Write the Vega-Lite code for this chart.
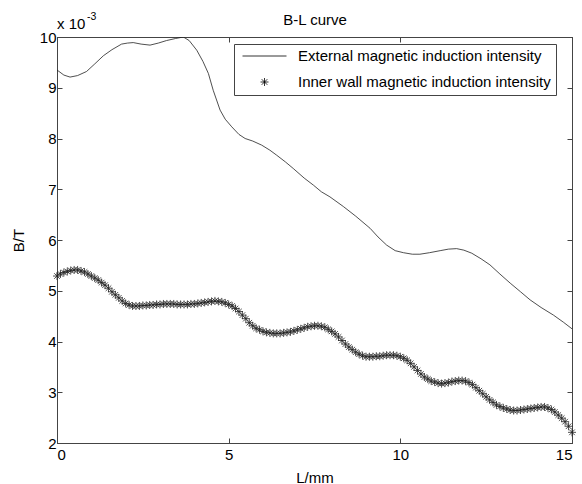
{
  "$schema": "https://vega.github.io/schema/vega-lite/v6.json",
  "autosize": "none",
  "width": 515,
  "height": 406,
  "padding": {"left": 57, "top": 37, "right": 10, "bottom": 41},
  "background": "white",
  "config": {
    "view": {"stroke": "#444", "strokeWidth": 1},
    "axis": {"grid": false, "domainColor": "#444", "tickColor": "#444", "labelColor": "#000", "titleColor": "#000", "labelFont": "Liberation Sans", "titleFont": "Liberation Sans", "labelFontSize": 15, "titleFontSize": 15, "titleFontWeight": "normal", "tickSize": -5, "labelPadding": 6}
  },
  "datasets": {
    "outer": [
      {"L": 0, "B": 0.00935}, {"L": 0.2, "B": 0.00925}, {"L": 0.38, "B": 0.00921}, {"L": 0.6, "B": 0.00924}, {"L": 0.86, "B": 0.00932},
      {"L": 1.1, "B": 0.00947}, {"L": 1.35, "B": 0.00963}, {"L": 1.6, "B": 0.00975}, {"L": 1.88, "B": 0.00986}, {"L": 2.05, "B": 0.00988},
      {"L": 2.22, "B": 0.00989}, {"L": 2.45, "B": 0.00986}, {"L": 2.71, "B": 0.00984}, {"L": 2.95, "B": 0.00988}, {"L": 3.19, "B": 0.00993},
      {"L": 3.45, "B": 0.00997}, {"L": 3.68, "B": 0.01}, {"L": 3.85, "B": 0.00993}, {"L": 4.07, "B": 0.00974}, {"L": 4.25, "B": 0.00952},
      {"L": 4.41, "B": 0.00928}, {"L": 4.55, "B": 0.00895}, {"L": 4.75, "B": 0.00856}, {"L": 4.9, "B": 0.00838}, {"L": 5.09, "B": 0.00823},
      {"L": 5.3, "B": 0.00808}, {"L": 5.48, "B": 0.008}, {"L": 5.7, "B": 0.00795}, {"L": 5.96, "B": 0.00787}, {"L": 6.2, "B": 0.00777},
      {"L": 6.4, "B": 0.00767}, {"L": 6.65, "B": 0.00754}, {"L": 6.88, "B": 0.00741}, {"L": 7.2, "B": 0.00722}, {"L": 7.47, "B": 0.00708},
      {"L": 7.7, "B": 0.00695}, {"L": 7.95, "B": 0.00685}, {"L": 8.34, "B": 0.00666}, {"L": 8.7, "B": 0.00647}, {"L": 9.12, "B": 0.00623},
      {"L": 9.35, "B": 0.00606}, {"L": 9.6, "B": 0.0059}, {"L": 9.85, "B": 0.00579}, {"L": 10.09, "B": 0.00575}, {"L": 10.35, "B": 0.00572},
      {"L": 10.57, "B": 0.00572}, {"L": 10.85, "B": 0.00575}, {"L": 11.16, "B": 0.00579}, {"L": 11.4, "B": 0.00582}, {"L": 11.64, "B": 0.00583},
      {"L": 11.85, "B": 0.0058}, {"L": 12.08, "B": 0.00574}, {"L": 12.35, "B": 0.00563}, {"L": 12.61, "B": 0.00551}, {"L": 12.9, "B": 0.00533},
      {"L": 13.2, "B": 0.00515}, {"L": 13.5, "B": 0.00498}, {"L": 13.78, "B": 0.00482}, {"L": 14.1, "B": 0.00467}, {"L": 14.46, "B": 0.00452},
      {"L": 14.75, "B": 0.00438}, {"L": 15, "B": 0.00425}
    ],
    "inner": [
      {"L": 0.0, "B": 0.00529}, {"L": 0.1, "B": 0.00533}, {"L": 0.2, "B": 0.00536}, {"L": 0.3, "B": 0.00538}, {"L": 0.4, "B": 0.0054},
      {"L": 0.5, "B": 0.00541}, {"L": 0.6, "B": 0.00541}, {"L": 0.7, "B": 0.00539}, {"L": 0.8, "B": 0.00537}, {"L": 0.9, "B": 0.00533},
      {"L": 1.0, "B": 0.00529}, {"L": 1.1, "B": 0.00525}, {"L": 1.2, "B": 0.00521}, {"L": 1.3, "B": 0.00516}, {"L": 1.4, "B": 0.00511},
      {"L": 1.5, "B": 0.00505}, {"L": 1.6, "B": 0.00498}, {"L": 1.7, "B": 0.00492}, {"L": 1.8, "B": 0.00486}, {"L": 1.9, "B": 0.0048},
      {"L": 2.0, "B": 0.00475}, {"L": 2.1, "B": 0.00472}, {"L": 2.2, "B": 0.0047}, {"L": 2.3, "B": 0.0047}, {"L": 2.4, "B": 0.0047},
      {"L": 2.5, "B": 0.00471}, {"L": 2.6, "B": 0.00471}, {"L": 2.7, "B": 0.00472}, {"L": 2.8, "B": 0.00472}, {"L": 2.9, "B": 0.00473},
      {"L": 3.0, "B": 0.00473}, {"L": 3.1, "B": 0.00474}, {"L": 3.2, "B": 0.00474}, {"L": 3.3, "B": 0.00474}, {"L": 3.4, "B": 0.00474},
      {"L": 3.5, "B": 0.00473}, {"L": 3.6, "B": 0.00473}, {"L": 3.7, "B": 0.00473}, {"L": 3.8, "B": 0.00473}, {"L": 3.9, "B": 0.00474},
      {"L": 4.0, "B": 0.00474}, {"L": 4.1, "B": 0.00475}, {"L": 4.2, "B": 0.00476}, {"L": 4.3, "B": 0.00477}, {"L": 4.4, "B": 0.00478},
      {"L": 4.5, "B": 0.00479}, {"L": 4.6, "B": 0.0048}, {"L": 4.7, "B": 0.00479}, {"L": 4.8, "B": 0.00478}, {"L": 4.9, "B": 0.00476},
      {"L": 5.0, "B": 0.00473}, {"L": 5.1, "B": 0.0047}, {"L": 5.2, "B": 0.00465}, {"L": 5.3, "B": 0.00459}, {"L": 5.4, "B": 0.00452},
      {"L": 5.5, "B": 0.00445}, {"L": 5.6, "B": 0.00437}, {"L": 5.7, "B": 0.00431}, {"L": 5.8, "B": 0.00426}, {"L": 5.9, "B": 0.00423},
      {"L": 6.0, "B": 0.0042}, {"L": 6.1, "B": 0.00418}, {"L": 6.2, "B": 0.00417}, {"L": 6.3, "B": 0.00416}, {"L": 6.4, "B": 0.00416},
      {"L": 6.5, "B": 0.00416}, {"L": 6.6, "B": 0.00417}, {"L": 6.7, "B": 0.00418}, {"L": 6.8, "B": 0.00419}, {"L": 6.9, "B": 0.00421},
      {"L": 7.0, "B": 0.00423}, {"L": 7.1, "B": 0.00425}, {"L": 7.2, "B": 0.00427}, {"L": 7.3, "B": 0.00429}, {"L": 7.4, "B": 0.0043},
      {"L": 7.5, "B": 0.00431}, {"L": 7.6, "B": 0.00431}, {"L": 7.7, "B": 0.0043}, {"L": 7.8, "B": 0.00428}, {"L": 7.9, "B": 0.00424},
      {"L": 8.0, "B": 0.0042}, {"L": 8.1, "B": 0.00415}, {"L": 8.2, "B": 0.00409}, {"L": 8.3, "B": 0.00402}, {"L": 8.4, "B": 0.00395},
      {"L": 8.5, "B": 0.00389}, {"L": 8.6, "B": 0.00384}, {"L": 8.7, "B": 0.00379}, {"L": 8.8, "B": 0.00375}, {"L": 8.9, "B": 0.00372},
      {"L": 9.0, "B": 0.0037}, {"L": 9.1, "B": 0.0037}, {"L": 9.2, "B": 0.0037}, {"L": 9.3, "B": 0.00371}, {"L": 9.4, "B": 0.00371},
      {"L": 9.5, "B": 0.00372}, {"L": 9.6, "B": 0.00373}, {"L": 9.7, "B": 0.00373}, {"L": 9.8, "B": 0.00373}, {"L": 9.9, "B": 0.00372},
      {"L": 10.0, "B": 0.0037}, {"L": 10.1, "B": 0.00367}, {"L": 10.2, "B": 0.00363}, {"L": 10.3, "B": 0.00357}, {"L": 10.4, "B": 0.0035},
      {"L": 10.5, "B": 0.00343}, {"L": 10.6, "B": 0.00336}, {"L": 10.7, "B": 0.0033}, {"L": 10.8, "B": 0.00326}, {"L": 10.9, "B": 0.00322},
      {"L": 11.0, "B": 0.0032}, {"L": 11.1, "B": 0.00318}, {"L": 11.2, "B": 0.00317}, {"L": 11.3, "B": 0.00318}, {"L": 11.4, "B": 0.00319},
      {"L": 11.5, "B": 0.00321}, {"L": 11.6, "B": 0.00322}, {"L": 11.7, "B": 0.00323}, {"L": 11.8, "B": 0.00323}, {"L": 11.9, "B": 0.00322},
      {"L": 12.0, "B": 0.00319}, {"L": 12.1, "B": 0.00315}, {"L": 12.2, "B": 0.00309}, {"L": 12.3, "B": 0.00303}, {"L": 12.4, "B": 0.00297},
      {"L": 12.5, "B": 0.00291}, {"L": 12.6, "B": 0.00285}, {"L": 12.7, "B": 0.0028}, {"L": 12.8, "B": 0.00275}, {"L": 12.9, "B": 0.00272},
      {"L": 13.0, "B": 0.00269}, {"L": 13.1, "B": 0.00267}, {"L": 13.2, "B": 0.00265}, {"L": 13.3, "B": 0.00264}, {"L": 13.4, "B": 0.00264},
      {"L": 13.5, "B": 0.00265}, {"L": 13.6, "B": 0.00266}, {"L": 13.7, "B": 0.00267}, {"L": 13.8, "B": 0.00268}, {"L": 13.9, "B": 0.00269},
      {"L": 14.0, "B": 0.0027}, {"L": 14.1, "B": 0.00271}, {"L": 14.2, "B": 0.00271}, {"L": 14.3, "B": 0.00269}, {"L": 14.4, "B": 0.00266},
      {"L": 14.5, "B": 0.00261}, {"L": 14.6, "B": 0.00255}, {"L": 14.7, "B": 0.00249}, {"L": 14.8, "B": 0.00242}, {"L": 14.9, "B": 0.00233},
      {"L": 15.0, "B": 0.00221}
    ],
    "note": [{"L": 0, "B": 0.01}]
  },
  "layer": [
    {
      "data": {"name": "outer"},
      "mark": {"type": "line", "color": "#222", "strokeWidth": 0.8, "clip": true},
      "encoding": {
        "x": {"field": "L", "type": "quantitative", "scale": {"domain": [0, 15], "nice": false, "zero": false},
              "axis": {"orient": "bottom", "values": [0, 5, 10, 15], "title": "L/mm", "labelPadding": 9, "titlePadding": 8}},
        "y": {"field": "B", "type": "quantitative", "scale": {"domain": [0.002, 0.01], "nice": false, "zero": false},
              "axis": {"orient": "left", "values": [0.002, 0.003, 0.004, 0.005, 0.006, 0.007, 0.008, 0.009, 0.01], "labelExpr": "format(datum.value*1000, 'd')", "title": "B/T", "titlePadding": 13}}
      }
    },
    {
      "data": {"name": "inner"},
      "mark": {"type": "point", "filled": false, "strokeWidth": 0.8, "color": "#222", "size": 64, "opacity": 1},
      "encoding": {
        "x": {"field": "L", "type": "quantitative", "axis": {"orient": "top", "values": [0, 5, 10, 15], "labels": false, "title": "B-L curve", "titlePadding": 12, "titleBaseline": "alphabetic"}},
        "y": {"field": "B", "type": "quantitative", "axis": {"orient": "right", "values": [0.002, 0.003, 0.004, 0.005, 0.006, 0.007, 0.008, 0.009, 0.01], "labels": false, "title": null}},
        "shape": {
          "datum": "Inner wall magnetic induction intensity",
          "type": "nominal",
          "scale": {
            "domain": ["External magnetic induction intensity", "Inner wall magnetic induction intensity"],
            "range": ["M-5.5,0L5.5,0", "M-1,0L1,0M0,-1L0,1M-0.7,-0.7L0.7,0.7M-0.7,0.7L0.7,-0.7"]
          },
          "legend": {
            "title": null, "orient": "none", "legendX": 177, "legendY": 7,
            "strokeColor": "#444", "fillColor": "#fff", "padding": 4.5,
            "symbolSize": 64, "symbolStrokeWidth": 0.8, "symbolStrokeColor": "#000", "symbolFillColor": "transparent",
            "symbolOffset": 18.5, "labelOffset": 26, "labelFontSize": 15, "labelFont": "Liberation Sans", "labelColor": "#000",
            "rowPadding": 10, "labelLimit": 400
          }
        }
      }
    },
    {
      "data": {"name": "note"},
      "mark": {"type": "text", "text": "x 10", "align": "left", "baseline": "alphabetic", "dy": -8, "fontSize": 15, "font": "Liberation Sans", "color": "#000"},
      "encoding": {
        "x": {"field": "L", "type": "quantitative", "axis": null},
        "y": {"field": "B", "type": "quantitative", "axis": null}
      }
    },
    {
      "data": {"name": "note"},
      "mark": {"type": "text", "text": "-3", "align": "left", "baseline": "alphabetic", "dx": 30, "dy": -17, "fontSize": 10.5, "font": "Liberation Sans", "color": "#000"},
      "encoding": {
        "x": {"field": "L", "type": "quantitative", "axis": null},
        "y": {"field": "B", "type": "quantitative", "axis": null}
      }
    }
  ],
  "resolve": {"axis": {"x": "independent", "y": "independent"}}
}
